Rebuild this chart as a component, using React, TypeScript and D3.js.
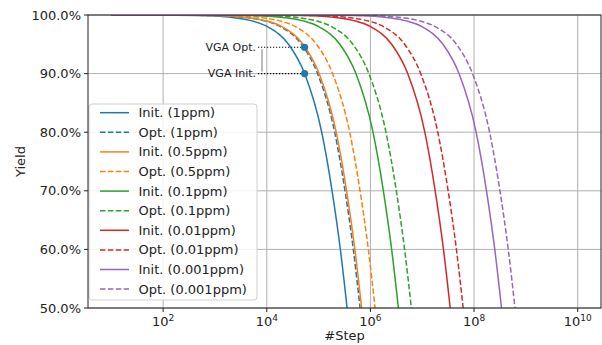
import React from "react";
import * as d3 from "d3";

// Yield levels shared by every curve (fraction), with the log10(step) at which each series reaches that level.
const yieldLevels = [1.0, 0.9999, 0.999, 0.995, 0.99, 0.98, 0.95, 0.9, 0.8, 0.7, 0.6, 0.5, 0.45];

const initLog1ppm = [1.0, 1.71, 2.71, 3.41, 3.71, 4.015, 4.42, 4.73, 5.06, 5.26, 5.42, 5.55, 5.61];
const optLog1ppm = [1.0, 1.96, 2.96, 3.66, 3.96, 4.265, 4.67, 4.98, 5.31, 5.51, 5.67, 5.8, 5.86];
const initLog05ppm = [1.0, 1.99, 2.99, 3.69, 3.99, 4.295, 4.7, 5.01, 5.34, 5.54, 5.7, 5.83, 5.89];
const optLog05ppm = [1.0, 2.25, 3.25, 3.95, 4.25, 4.555, 4.96, 5.27, 5.6, 5.8, 5.96, 6.09, 6.15];
const initLog01ppm = [1.0, 2.7, 3.7, 4.4, 4.7, 5.005, 5.41, 5.72, 6.05, 6.25, 6.41, 6.54, 6.6];
const optLog01ppm = [1.0, 2.95, 3.95, 4.65, 4.95, 5.255, 5.66, 5.97, 6.3, 6.5, 6.66, 6.79, 6.85];
const initLog001ppm = [1.0, 3.7, 4.7, 5.4, 5.7, 6.005, 6.41, 6.72, 7.05, 7.25, 7.41, 7.54, 7.6];
const optLog001ppm = [1.0, 3.95, 4.95, 5.65, 5.95, 6.255, 6.66, 6.97, 7.3, 7.5, 7.66, 7.79, 7.85];
const initLog0001ppm = [1.0, 4.69, 5.69, 6.39, 6.69, 6.995, 7.4, 7.71, 8.04, 8.24, 8.4, 8.53, 8.59];
const optLog0001ppm = [1.0, 4.95, 5.95, 6.65, 6.95, 7.255, 7.66, 7.97, 8.3, 8.5, 8.66, 8.79, 8.85];

const seriesLabels = [
  "Init. (1ppm)", "Opt. (1ppm)",
  "Init. (0.5ppm)", "Opt. (0.5ppm)",
  "Init. (0.1ppm)", "Opt. (0.1ppm)",
  "Init. (0.01ppm)", "Opt. (0.01ppm)",
  "Init. (0.001ppm)", "Opt. (0.001ppm)",
];
const seriesLogSteps = [
  initLog1ppm, optLog1ppm,
  initLog05ppm, optLog05ppm,
  initLog01ppm, optLog01ppm,
  initLog001ppm, optLog001ppm,
  initLog0001ppm, optLog0001ppm,
];
const seriesColors = ["#1f77b4", "#ff7f0e", "#2ca02c", "#d62728", "#9467bd"];

const xTickExponents = [2, 4, 6, 8, 10];
const yTicks = [0.5, 0.6, 0.7, 0.8, 0.9, 1.0];

// VGA marker: same step, yield of each curve at that step
const vgaLogStep = 4.73;
const vgaInitYield = 0.9;
const vgaOptYield = 0.945;

const W = 602;
const H = 345;
const M = { left: 88, right: 601, top: 15, bottom: 308 };
const FONT = "'DejaVu Sans', sans-serif";

export default function App() {
  const x = d3.scaleLog().domain([10 ** 0.55, 10 ** 10.45]).range([M.left, M.right]);
  const y = d3.scaleLinear().domain([0.5, 1.0]).range([M.bottom, M.top]);
  const line = d3
    .line<[number, number]>()
    .x((d) => x(10 ** d[0]))
    .y((d) => y(d[1]))
    .curve(d3.curveMonotoneX);

  const legendX = 89;
  const legendY = 104;
  const rowH = 19.6;

  const vx = x(10 ** vgaLogStep);
  const yOpt = y(vgaOptYield);
  const yInit = y(vgaInitYield);

  return (
    <div style={{ position: "fixed", left: 0, top: 0 }}>
      <svg width={W} height={H} style={{ display: "block", background: "#fff" }} fontFamily={FONT}>
        <defs>
          <clipPath id="plot-clip">
            <rect x={M.left} y={M.top} width={M.right - M.left} height={M.bottom - M.top} />
          </clipPath>
        </defs>

        {/* grid */}
        {xTickExponents.map((e) => (
          <line key={"gx" + e} x1={x(10 ** e)} x2={x(10 ** e)} y1={M.top} y2={M.bottom} stroke="#b0b0b0" strokeWidth={1} />
        ))}
        {yTicks.map((t) => (
          <line key={"gy" + t} x1={M.left} x2={M.right} y1={y(t)} y2={y(t)} stroke="#b0b0b0" strokeWidth={1} />
        ))}

        {/* curves */}
        <g clipPath="url(#plot-clip)">
          {seriesLogSteps.map((steps, i) => {
            const pts = steps.map((s, k) => [s, yieldLevels[k]] as [number, number]);
            return (
              <path
                key={seriesLabels[i]}
                d={line(pts) || ""}
                fill="none"
                stroke={seriesColors[Math.floor(i / 2)]}
                strokeWidth={1.5}
                strokeDasharray={i % 2 === 1 ? "5.5,2.4" : undefined}
              />
            );
          })}
        </g>

        {/* VGA annotations */}
        <line x1={258} x2={vx} y1={yOpt} y2={yOpt} stroke="#000" strokeWidth={1.2} strokeDasharray="1.2,1.8" />
        <line x1={258} x2={vx} y1={yInit} y2={yInit} stroke="#000" strokeWidth={1.2} strokeDasharray="1.2,1.8" />
        <line x1={262} x2={262} y1={yOpt + 2} y2={yInit - 2} stroke="#555" strokeWidth={0.8} />
        <circle cx={vx} cy={yOpt} r={3.6} fill="#1f77b4" />
        <circle cx={vx} cy={yInit} r={3.6} fill="#1f77b4" />
        <text x={256} y={yOpt} dy="0.35em" textAnchor="end" fontSize={11} fill="#222">VGA Opt.</text>
        <text x={256} y={yInit} dy="0.35em" textAnchor="end" fontSize={11} fill="#222">VGA Init.</text>

        {/* legend */}
        <rect x={legendX} y={legendY} width={168} height={196} rx={3} fill="#fff" fillOpacity={0.85} stroke="#d0d0d0" strokeWidth={1} />
        {seriesLabels.map((lab, i) => {
          const ly = legendY + 8.7 + i * rowH;
          return (
            <g key={"lg" + lab}>
              <line
                x1={100}
                x2={129}
                y1={ly}
                y2={ly}
                stroke={seriesColors[Math.floor(i / 2)]}
                strokeWidth={1.5}
                strokeDasharray={i % 2 === 1 ? "5.5,2.4" : undefined}
              />
              <text x={138.5} y={ly} dy="0.35em" fontSize={13} fill="#222">{lab}</text>
            </g>
          );
        })}

        {/* frame */}
        <rect x={M.left} y={M.top} width={M.right - M.left} height={M.bottom - M.top} fill="none" stroke="#222" strokeWidth={1} />

        {/* y axis */}
        {yTicks.map((t) => (
          <g key={"yt" + t}>
            <line x1={M.left - 4} x2={M.left} y1={y(t)} y2={y(t)} stroke="#222" strokeWidth={1} />
            <text x={M.left - 7} y={y(t)} dy="0.35em" textAnchor="end" fontSize={13} fill="#222">
              {(t * 100).toFixed(1) + "%"}
            </text>
          </g>
        ))}
        <text transform={`translate(25,${(M.top + M.bottom) / 2}) rotate(-90)`} textAnchor="middle" fontSize={13} fill="#222">Yield</text>

        {/* x axis */}
        {xTickExponents.map((e) => (
          <g key={"xt" + e}>
            <line x1={x(10 ** e)} x2={x(10 ** e)} y1={M.bottom} y2={M.bottom + 4} stroke="#222" strokeWidth={1} />
            <text x={x(10 ** e)} y={M.bottom + 17.5} textAnchor="middle" fontSize={13} fill="#222">
              10<tspan dy={-5} fontSize={9}>{e}</tspan>
            </text>
          </g>
        ))}
        <text x={(M.left + M.right) / 2} y={M.bottom + 32} textAnchor="middle" fontSize={13} fill="#222">#Step</text>
      </svg>
    </div>
  );
}
